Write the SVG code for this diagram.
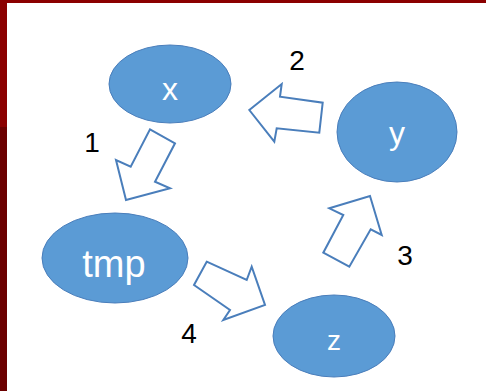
<svg xmlns="http://www.w3.org/2000/svg" width="486" height="391" viewBox="0 0 486 391">
<style>
.node ellipse{fill:#5B9BD5;stroke:#4A7EBB;stroke-width:1}
.node text{fill:#fff;font-family:"Liberation Sans",Arial,sans-serif;text-anchor:middle}
.arrow{fill:#fff;stroke:#4A7EBB;stroke-width:2;stroke-linejoin:miter}
.lbl{fill:#000;font-family:"Liberation Sans",Arial,sans-serif;font-size:28px;text-anchor:middle}
</style>
<rect x="0" y="0" width="486" height="391" fill="#fff"/>
<rect x="0" y="0" width="486" height="3" fill="#8B0000"/>
<rect x="0" y="0" width="7" height="127" fill="#8B0000"/>
<rect x="0" y="127" width="7" height="264" fill="#6B0000"/>
<g id="node-x" class="node"><ellipse cx="170" cy="84" rx="61" ry="39"/><text x="170" y="100" font-size="32">x</text></g>
<g id="node-y" class="node"><ellipse cx="397" cy="132" rx="60" ry="50"/><text x="397" y="144" font-size="32">y</text></g>
<g id="node-tmp" class="node"><ellipse cx="115" cy="258" rx="73" ry="45"/><text x="114" y="277" font-size="38">tmp</text></g>
<g id="node-z" class="node"><ellipse cx="334" cy="336" rx="61" ry="41"/><text x="334" y="350" font-size="28">z</text></g>
<g id="connectors">
<polygon id="arrow-1" class="arrow" points="150,129.3 175,143.3 155,181.7 170,188.3 126,200 116,160 130.7,166.7"/>
<polygon id="arrow-2" class="arrow" points="249.3,110 281.7,84 280,96.7 322.7,102.7 319.3,132.7 276.7,128.3 274.3,141.7"/>
<polygon id="arrow-3" class="arrow" points="370,196 381.7,235 370.7,229.3 349.3,266.7 323.3,252.7 343.3,215 329.3,208.3"/>
<polygon id="arrow-4" class="arrow" points="206.7,261.7 246.7,280 251.7,266.7 265,305 223.3,320 230,310 194,285"/>
</g>
<text class="lbl" x="92" y="152">1</text>
<text class="lbl" x="297" y="70">2</text>
<text class="lbl" x="405" y="265">3</text>
<text class="lbl" x="189" y="343">4</text>
</svg>
